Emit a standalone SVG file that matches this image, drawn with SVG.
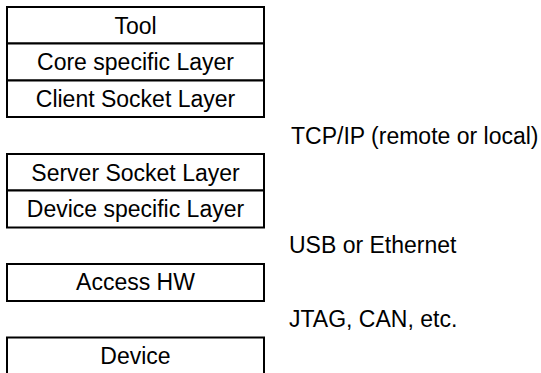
<svg xmlns="http://www.w3.org/2000/svg" width="541" height="373" viewBox="0 0 541 373">
<style>
.box{fill:#fff;stroke:#000;stroke-width:2}
.t{font-family:"Liberation Sans",Arial,sans-serif;font-size:23px;fill:#000}
.c{text-anchor:middle}
</style>
<rect width="541" height="373" fill="#fff"/>
<g id="tool"><rect class="box" x="7" y="7" width="257" height="36.5"/><text class="t c" x="135.5" y="33.5">Tool</text></g>
<g id="core"><rect class="box" x="7" y="43.5" width="257" height="37"/><text class="t c" x="135.5" y="70">Core specific Layer</text></g>
<g id="client"><rect class="box" x="7" y="80.5" width="257" height="36.5"/><text class="t c" x="135.5" y="107">Client Socket Layer</text></g>
<g id="server"><rect class="box" x="7" y="154" width="257" height="36.5"/><text class="t c" x="135.5" y="180.5">Server Socket Layer</text></g>
<g id="devspec"><rect class="box" x="7" y="190.5" width="257" height="37"/><text class="t c" x="135.5" y="217">Device specific Layer</text></g>
<g id="access"><rect class="box" x="7" y="264" width="257" height="37"/><text class="t c" x="135.5" y="290">Access HW</text></g>
<g id="device"><rect class="box" x="7" y="337.5" width="257" height="50"/><text class="t c" x="135.5" y="364">Device</text></g>
<g id="connectors">
<text class="t" x="291" y="144">TCP/IP (remote or local)</text>
<text class="t" x="289" y="253">USB or Ethernet</text>
<text class="t" x="289" y="327">JTAG, CAN, etc.</text>
</g>
</svg>
